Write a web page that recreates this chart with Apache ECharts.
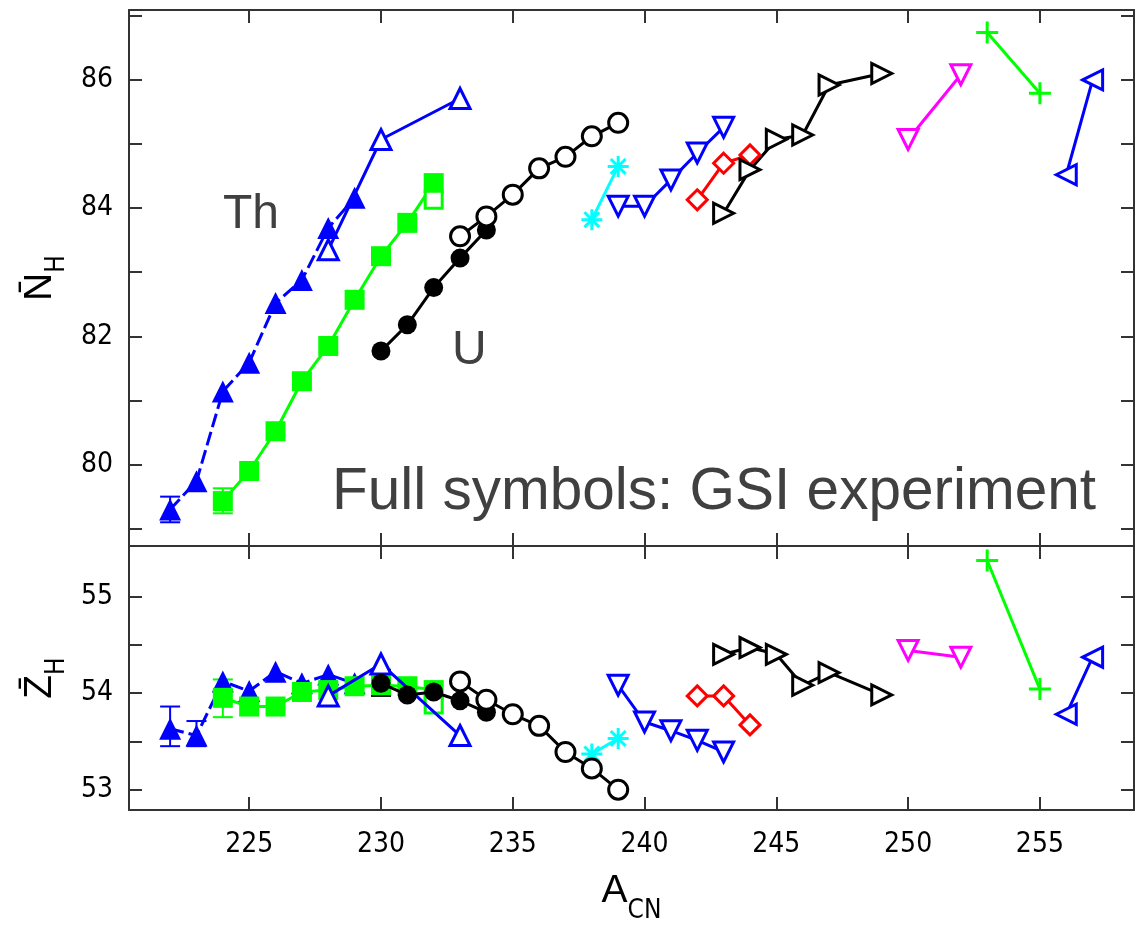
<!DOCTYPE html>
<html>
<head>
<meta charset="utf-8">
<script src="https://cdn.jsdelivr.net/npm/echarts@6/dist/echarts.min.js"></script>
<style>html,body{margin:0;padding:0;background:#fff}#c{width:1144px;height:925px}</style>
</head>
<body>
<div id="c"></div>
<script>
// ---------- data ----------
const xTicks = [225, 230, 235, 240, 245, 250, 255];
const nTicks = [79, 80, 81, 82, 83, 84, 85, 86, 87];
const nLabels = [80, 82, 84, 86];
const zTicks = [53, 53.5, 54, 54.5, 55];
const zLabels = [53, 54, 55];

// Th, GSI (full blue triangles)
const A_thG = [222, 223, 224, 225, 226, 227, 228, 229];
const N_thG = [79.30, 79.74, 81.14, 81.59, 82.52, 82.88, 83.69, 84.16];
const Z_thG = [53.63, 53.56, 54.12, 54.02, 54.22, 54.10, 54.19, 54.10];
// Th, open blue triangles
const A_thO = [228, 230, 233];
const N_thO = [83.35, 85.07, 85.71];
const Z_thO = [53.97, 54.30, 53.56];
// Pa, GSI (full green squares)
const A_paG = [224, 225, 226, 227, 228, 229, 230, 231, 232];
const N_paG = [79.43, 79.90, 80.52, 81.30, 81.85, 82.57, 83.25, 83.77, 84.39];
const Z_paG = [53.95, 53.86, 53.86, 54.01, 54.03, 54.07, 54.08, 54.07, 54.03];
// Pa open square
const A_paO = [232];
const N_paO = [84.13];
const Z_paO = [53.88];
// U, GSI (full black circles)
const A_uG = [230, 231, 232, 233, 234];
const N_uG = [81.77, 82.18, 82.76, 83.22, 83.66];
const Z_uG = [54.10, 53.98, 54.01, 53.92, 53.80];
// U open circles
const A_uO = [233, 234, 235, 236, 237, 238, 239];
const N_uO = [83.56, 83.87, 84.21, 84.62, 84.80, 85.12, 85.33];
const Z_uO = [54.12, 53.93, 53.78, 53.66, 53.39, 53.22, 53.00];
// cyan asterisks
const A_cy = [238, 239];
const N_cy = [83.82, 84.65];
const Z_cy = [53.37, 53.53];
// blue down triangles
const A_bd = [239, 240, 241, 242, 243];
const N_bd = [84.03, 84.03, 84.44, 84.86, 85.26];
const Z_bd = [54.08, 53.70, 53.61, 53.51, 53.39];
// red diamonds
const A_rd = [242, 243, 244];
const N_rd = [84.13, 84.70, 84.83];
const Z_rd = [53.97, 53.97, 53.67];
// black right triangles
const A_kr = [243, 244, 245, 246, 247, 249];
const N_kr = [83.92, 84.60, 85.07, 85.14, 85.92, 86.10];
const Z_kr = [54.40, 54.47, 54.40, 54.08, 54.21, 53.98];
// magenta down triangles
const A_mg = [250, 252];
const N_mg = [85.07, 86.08];
const Z_mg = [54.44, 54.37];
// green plus
const A_gp = [253, 255];
const N_gp = [86.74, 85.79];
const Z_gp = [55.37, 54.04];
// blue left triangles
const A_bl = [256, 257];
const N_bl = [84.52, 86.00];
const Z_bl = [53.78, 54.37];

// error bars [A, low, high]
const errN_th = [[222, 79.10, 79.50]];
const errN_pa = [[224, 79.24, 79.63]];
const errZ_th = [[222, 53.45, 53.86], [223, 53.45, 53.71]];
const errZ_pa = [[224, 53.75, 54.14]];
const errZ_u = [[230, 53.97, 54.24]];

// ---------- chart ----------
const X_MIN = 220.44, X_MAX = 258.57;
const frame = '#333';
const labelFont = '"Liberation Sans Narrow", "DejaVu Sans Condensed", "Liberation Sans", sans-serif';
const titleFont = '"Liberation Sans", sans-serif';

function pairs(a, v) { return a.map((x, i) => [x, v[i]]); }

function xAx(grid, pos, labels, name) {
  const o = {
    type: 'value', gridIndex: grid, position: pos, min: X_MIN, max: X_MAX,
    axisLine: { show: true, onZero: false, lineStyle: { color: frame, width: 2 } },
    axisTick: { show: true, inside: true, length: 13, lineStyle: { color: frame, width: 2 }, customValues: xTicks },
    axisLabel: { show: labels, customValues: xTicks, color: '#000', fontFamily: labelFont, fontSize: 28, margin: 21 },
    splitLine: { show: false }
  };
  if (name) {
    o.name = '{a|A}{b|CN}';
    o.nameLocation = 'middle';
    o.nameGap = 48;
    o.nameTextStyle = {
      rich: {
        a: { fontFamily: titleFont, fontSize: 39, color: '#000', verticalAlign: 'middle', lineHeight: 66 },
        b: { fontFamily: labelFont, fontSize: 26, color: '#000', verticalAlign: 'bottom', lineHeight: 66 }
      }
    };
  }
  return o;
}
function yAx(grid, pos, labels, min, max, ticks, labs, name) {
  const o = {
    type: 'value', gridIndex: grid, position: pos, min: min, max: max,
    axisLine: { show: true, onZero: false, lineStyle: { color: frame, width: 2 } },
    axisTick: { show: true, inside: true, length: 13, lineStyle: { color: frame, width: 2 }, customValues: ticks },
    axisLabel: { show: labels, customValues: labs, color: '#000', fontFamily: labelFont, fontSize: 28, margin: 16 },
    splitLine: { show: false }
  };
  if (name) {
    o.name = '{a|' + name + '\u0304}{b|H}';
    o.nameLocation = 'middle';
    o.nameGap = 57;
    o.nameTextStyle = {
      rich: {
        a: { fontFamily: titleFont, fontSize: 39, color: '#000', verticalAlign: 'middle', lineHeight: 60 },
        b: { fontFamily: labelFont, fontSize: 26, color: '#000', verticalAlign: 'bottom', lineHeight: 60 }
      }
    };
  }
  return o;
}

const TRI = 'triangle';
const PLUS = 'path://M0,-10L0,10M-10,0L10,0';
const STAR = 'path://M0,-10L0,10M-10,0L10,0M-7.07,-7.07L7.07,7.07M-7.07,7.07L7.07,-7.07';

function ser(grid, a, v, color, opts) {
  const filled = opts.filled;
  return {
    type: 'line', xAxisIndex: grid * 2, yAxisIndex: grid * 2,
    data: pairs(a, v), animation: false, silent: true, z: opts.z || 2,
    symbol: opts.symbol, symbolSize: opts.size, symbolRotate: opts.rotate || 0,
    showAllSymbol: true,
    lineStyle: { color: color, width: 3, type: opts.dash || 'solid' },
    itemStyle: filled
      ? { color: color, borderWidth: 0 }
      : (opts.line ? { color: color, borderColor: color, borderWidth: 3 } : { color: '#fff', borderColor: color, borderWidth: 3 }),
    emphasis: { disabled: true }
  };
}

function errSer(grid, data, color) {
  return {
    type: 'custom', xAxisIndex: grid * 2, yAxisIndex: grid * 2, z: 1, silent: true, animation: false,
    data: data, encode: { x: 0, y: [1, 2] },
    renderItem: function (params, api) {
      const x = api.value(0), lo = api.value(1), hi = api.value(2);
      const p1 = api.coord([x, lo]), p2 = api.coord([x, hi]);
      const w = 10;
      const st = { stroke: color, lineWidth: 2 };
      return {
        type: 'group', children: [
          { type: 'line', shape: { x1: p1[0], y1: p1[1], x2: p2[0], y2: p2[1] }, style: st },
          { type: 'line', shape: { x1: p1[0] - w, y1: p1[1], x2: p1[0] + w, y2: p1[1] }, style: st },
          { type: 'line', shape: { x1: p2[0] - w, y1: p2[1], x2: p2[0] + w, y2: p2[1] }, style: st }
        ]
      };
    }
  };
}

const BLUE = '#0000ff', GREEN = '#00ff00', BLACK = '#000000', CYAN = '#00ffff', RED = '#ff0000', MAG = '#ff00ff';

function panel(g, vals) {
  const [thG, thO, paG, paO, uG, uO, cy, bd, rd, kr, mg, gp, bl] = vals;
  return [
    ser(g, A_thG, thG, BLUE, { symbol: TRI, size: 22, filled: true, dash: [14, 5] }),
    ser(g, A_paG, paG, GREEN, { symbol: 'rect', size: 20, filled: true }),
    ser(g, A_paO, paO, GREEN, { symbol: 'rect', size: 17 }),
    ser(g, A_thO, thO, BLUE, { symbol: TRI, size: 20, z: 3 }),
    ser(g, A_uG, uG, BLACK, { symbol: 'circle', size: 19, filled: true, z: 3 }),
    ser(g, A_uO, uO, BLACK, { symbol: 'circle', size: 19, z: 3 }),
    ser(g, A_cy, cy, CYAN, { symbol: STAR, size: 21, line: true }),
    ser(g, A_bd, bd, BLUE, { symbol: TRI, size: 20, rotate: 180 }),
    ser(g, A_rd, rd, RED, { symbol: 'diamond', size: 20 }),
    ser(g, A_kr, kr, BLACK, { symbol: TRI, size: 20, rotate: -90 }),
    ser(g, A_mg, mg, MAG, { symbol: TRI, size: 20, rotate: 180 }),
    ser(g, A_gp, gp, GREEN, { symbol: PLUS, size: 22, line: true }),
    ser(g, A_bl, bl, BLUE, { symbol: TRI, size: 20, rotate: 90 })
  ];
}

const series = [].concat(
  errSer(0, errN_th, BLUE), errSer(0, errN_pa, GREEN),
  errSer(1, errZ_th, BLUE), errSer(1, errZ_pa, GREEN), errSer(1, errZ_u, BLACK),
  panel(0, [N_thG, N_thO, N_paG, N_paO, N_uG, N_uO, N_cy, N_bd, N_rd, N_kr, N_mg, N_gp, N_bl]),
  panel(1, [Z_thG, Z_thO, Z_paG, Z_paO, Z_uG, Z_uO, Z_cy, Z_bd, Z_rd, Z_kr, Z_mg, Z_gp, Z_bl])
);

const chart = echarts.init(document.getElementById('c'), null, { renderer: 'canvas' });
chart.setOption({
  animation: false,
  backgroundColor: '#fff',
  grid: [
    { left: 129, right: 10, top: 10, height: 536 },
    { left: 129, right: 10, top: 546, height: 268 }
  ],
  xAxis: [
    xAx(0, 'bottom', false), xAx(0, 'top', false),
    xAx(1, 'bottom', true, true), xAx(1, 'top', false)
  ],
  yAxis: [
    yAx(0, 'left', true, 78.73, 87.09, nTicks, nLabels, 'N'), yAx(0, 'right', false, 78.73, 87.09, nTicks, nLabels),
    yAx(1, 'left', true, 52.79, 55.52, zTicks, zLabels, 'Z'), yAx(1, 'right', false, 52.79, 55.52, zTicks, zLabels)
  ],
  graphic: [
    { type: 'text', x: 223, y: 214.5, silent: true, style: { text: 'Th', font: '48px "Liberation Sans"', fill: '#404040', verticalAlign: 'middle' } },
    { type: 'text', x: 452, y: 350.5, silent: true, style: { text: 'U', font: '48px "Liberation Sans"', fill: '#404040', verticalAlign: 'middle' } },
    { type: 'text', x: 332, y: 493, silent: true, style: { text: 'Full symbols: GSI experiment', font: '58.5px "Liberation Sans"', fill: '#404040', verticalAlign: 'middle' } }
  ],
  series: series
});
</script>
</body>
</html>
